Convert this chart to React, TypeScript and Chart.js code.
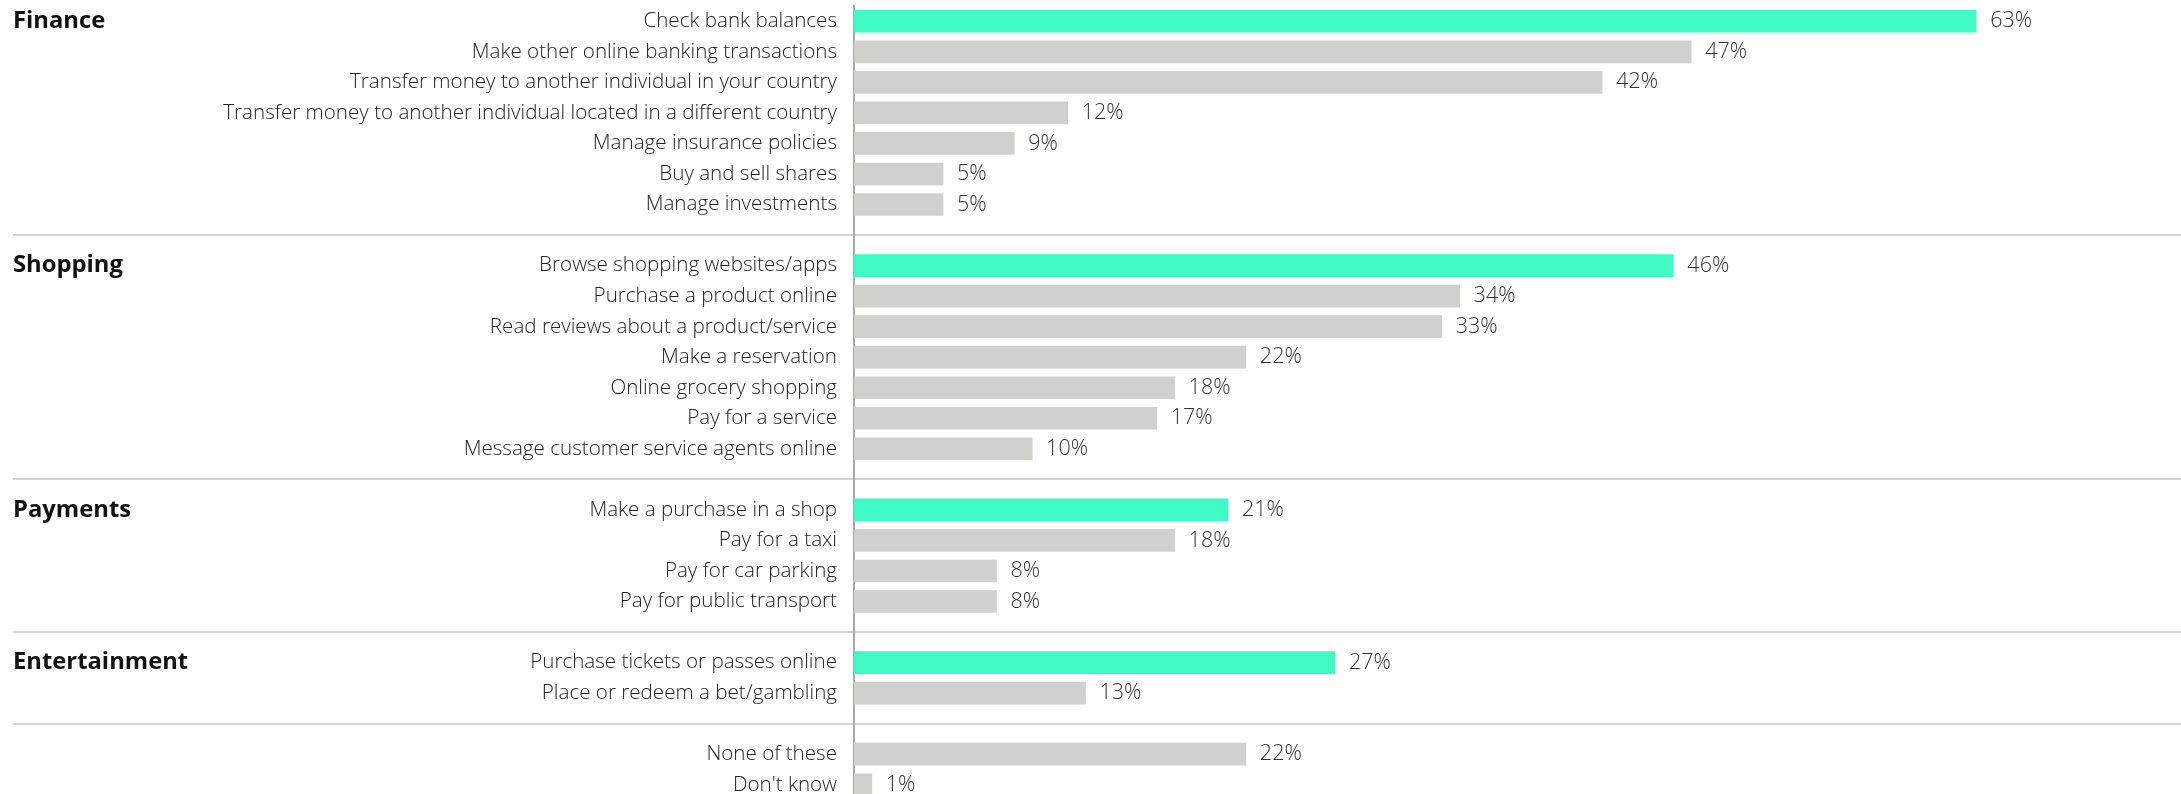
import React, { useEffect, useRef } from "react";
import { Chart, registerables } from "chart.js";

Chart.register(...registerables);

const groupNames = ["Finance", "Shopping", "Payments", "Entertainment", ""];

const financeLabels = [
  "Check bank balances",
  "Make other online banking transactions",
  "Transfer money to another individual in your country",
  "Transfer money to another individual located in a different country",
  "Manage insurance policies",
  "Buy and sell shares",
  "Manage investments",
];
const financeValues = [63, 47, 42, 12, 9, 5, 5];

const shoppingLabels = [
  "Browse shopping websites/apps",
  "Purchase a product online",
  "Read reviews about a product/service",
  "Make a reservation",
  "Online grocery shopping",
  "Pay for a service",
  "Message customer service agents online",
];
const shoppingValues = [46, 34, 33, 22, 18, 17, 10];

const paymentsLabels = [
  "Make a purchase in a shop",
  "Pay for a taxi",
  "Pay for car parking",
  "Pay for public transport",
];
const paymentsValues = [21, 18, 8, 8];

const entertainmentLabels = [
  "Purchase tickets or passes online",
  "Place or redeem a bet/gambling",
];
const entertainmentValues = [27, 13];

const otherLabels = ["None of these", "Don't know"];
const otherValues = [22, 1];

const groupLabelLists = [financeLabels, shoppingLabels, paymentsLabels, entertainmentLabels, otherLabels];
const groupValueLists = [financeValues, shoppingValues, paymentsValues, entertainmentValues, otherValues];

const TEAL = "#40fac5";
const GREY = "#d0d0ce";
const FONT = "'Open Sans', sans-serif";

export default function App() {
  const canvasRef = useRef<HTMLCanvasElement | null>(null);

  useEffect(() => {
    const labels: string[] = [];
    const values: (number | null)[] = [];
    const colors: string[] = [];
    const groupStarts: number[] = [];
    const dividerRows: number[] = [];

    groupLabelLists.forEach((list, gi) => {
      if (gi > 0) {
        dividerRows.push(labels.length);
        labels.push("");
        values.push(null);
        colors.push("rgba(0,0,0,0)");
      }
      groupStarts.push(labels.length);
      list.forEach((l, i) => {
        labels.push(l);
        values.push(groupValueLists[gi][i]);
        colors.push(i === 0 && groupNames[gi] ? TEAL : GREY);
      });
    });

    const decor = {
      id: "decor",
      beforeDraw(chart: any) {
        const ctx = chart.ctx;
        const y = chart.scales.y;
        ctx.save();
        ctx.strokeStyle = "#d3d3d3";
        ctx.lineWidth = 2;
        dividerRows.forEach((r) => {
          const py = Math.round(y.getPixelForValue(r));
          ctx.beginPath();
          ctx.moveTo(13, py);
          ctx.lineTo(chart.width, py);
          ctx.stroke();
        });
        ctx.restore();
      },
      afterDraw(chart: any) {
        const ctx = chart.ctx;
        const y = chart.scales.y;
        const left = chart.chartArea.left;
        ctx.save();
        ctx.textBaseline = "middle";
        // category labels
        ctx.font = `300 20.6px ${FONT}`;
        ctx.fillStyle = "#222222";
        ctx.textAlign = "right";
        labels.forEach((l, i) => {
          if (!l) return;
          ctx.fillText(l, left - 17, y.getPixelForValue(i));
        });
        // group names
        ctx.font = `700 23.8px ${FONT}`;
        ctx.fillStyle = "#111111";
        ctx.textAlign = "left";
        groupNames.forEach((g, gi) => {
          if (!g) return;
          ctx.fillText(g, 13, y.getPixelForValue(groupStarts[gi]));
        });
        // value labels
        ctx.font = `300 21.5px ${FONT}`;
        ctx.fillStyle = "#333333";
        const meta = chart.getDatasetMeta(0);
        meta.data.forEach((bar: any, i: number) => {
          const v = values[i];
          if (v === null || v === undefined) return;
          ctx.fillText(`${v}%`, bar.x + 14, bar.y);
        });
        ctx.restore();
      },
    };

    const chart = new Chart(canvasRef.current as HTMLCanvasElement, {
      type: "bar",
      data: {
        labels,
        datasets: [
          {
            data: values,
            backgroundColor: colors,
            borderWidth: 0,
            barThickness: 22,
          },
        ],
      },
      options: {
        indexAxis: "y",
        animation: false,
        responsive: false,
        devicePixelRatio: 1,
        layout: { padding: { top: 6, right: 0, bottom: 0, left: 0 } },
        plugins: {
          legend: { display: false },
          tooltip: { enabled: false },
        },
        scales: {
          x: {
            display: false,
            min: 0,
            max: 74.5,
          },
          y: {
            display: true,
            grid: { display: false, drawTicks: false },
            ticks: { display: false },
            border: { display: true, color: "#a8a8a8", width: 2 },
            afterFit: (scale: any) => {
              scale.width = 854;
            },
          },
        },
      },
      plugins: [decor],
    });

    return () => chart.destroy();
  }, []);

  return (
    <div
      style={{
        position: "fixed",
        left: 0,
        top: 0,
        width: 2181,
        height: 794,
        overflow: "hidden",
        background: "#ffffff",
      }}
    >
      <canvas ref={canvasRef} width={2181} height={800} style={{ display: "block" }} />
    </div>
  );
}
